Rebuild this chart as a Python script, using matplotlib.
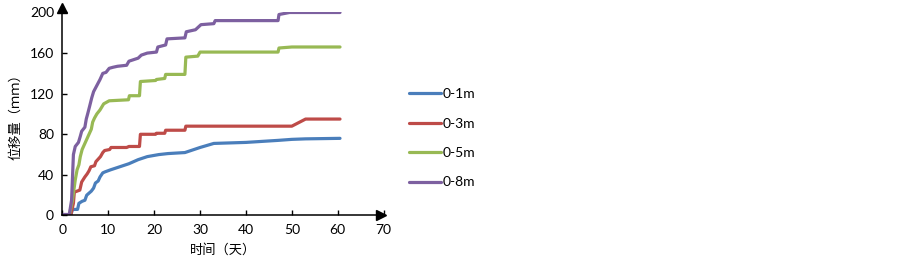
import numpy as np
import matplotlib.pyplot as plt

plt.rcParams['font.family'] = ['Lato', 'Noto Sans CJK SC', 'DejaVu Sans']

# 0-1m
x1 = [0, 1.8, 2.2, 3.3, 3.6, 4.3, 4.9, 5.3, 5.8, 6.3, 6.8, 7.2, 7.8, 8.2, 8.8, 9.3,
      10.5, 12.5, 14.5, 16.5, 18.5, 21, 23, 26.7, 30, 33, 40, 47, 50, 53, 60.5]
y1 = [0, 0, 6, 6, 12, 14, 15, 20, 22, 24, 27, 32, 34, 38, 42, 43,
      45, 48, 51, 55, 58, 60, 61, 62, 67, 71, 72, 74, 75, 75.5, 76]
# 0-3m
x3 = [0, 1.8, 2.4, 2.6, 3.8, 4.2, 4.9, 5.4, 5.8, 6.2, 7.0, 7.3, 7.9, 8.3, 8.8, 9.2,
      10.3, 10.6, 14, 14.5, 16.8, 17, 20.3, 20.5, 22.3, 22.5, 26.7, 26.9, 50, 53, 60.5]
y3 = [0, 0, 12, 23, 25, 33, 38, 41, 44, 48, 49, 53, 56, 58, 62, 64,
      65, 67, 67, 68, 68, 80, 80, 81, 81, 84, 84, 88, 88, 95, 95]
# 0-5m
x5 = [0, 1.5, 2.2, 2.8, 3.2, 3.6, 3.9, 4.3, 4.8, 5.3, 5.8, 6.3, 6.6, 7.0, 7.5, 8.2,
      8.6, 9.0, 10.2, 14.4, 14.6, 16.8, 17.0, 20.3, 20.5, 22.3, 22.5, 26.7, 26.9,
      29.5, 30, 47, 47.2, 50, 60.5]
y5 = [0, 0, 15, 35, 45, 50, 58, 65, 70, 75, 80, 85, 92, 96, 100, 104,
      107, 110, 113, 114, 118, 118, 132, 133, 134, 135, 139, 139, 156,
      157, 161, 161, 165, 166, 166]
# 0-8m
x8 = [0, 1.5, 2.0, 2.4, 2.8, 3.5, 3.9, 4.2, 4.9, 5.2, 5.5, 5.9, 6.4, 6.8, 7.5, 8.2,
      8.8, 9.5, 10.2, 11, 12, 14, 14.5, 16.5, 17.2, 18.5, 20.5, 20.8, 22.5, 22.8,
      26.7, 27, 29, 30.2, 33, 33.3, 47, 47.2, 49.5, 60.5]
y8 = [1, 1, 15, 60, 68, 72, 78, 83, 87, 95, 100, 107, 116, 122, 128, 134,
      140, 141, 145, 146, 147, 148, 152, 155, 158, 160, 161, 166, 168, 174,
      175, 181, 183, 188, 189, 192, 192, 198, 200, 200]

series = [(x1, y1, '0-1m', '#4A7EBB'),
          (x3, y3, '0-3m', '#BE4B48'),
          (x5, y5, '0-5m', '#98B954'),
          (x8, y8, '0-8m', '#7D60A0')]

fig = plt.figure(figsize=(9.03, 2.75), dpi=100)
ax = fig.add_axes([0.0691, 0.2164, 0.3557, 0.7382])

for xs, ys, name, c in series:
    ax.plot(xs, ys, color=c, lw=2.3, label=name, solid_capstyle='round')

ax.set(xlim=(0, 70), ylim=(0, 200))
ax.set_xticks(np.arange(0, 71, 10))
ax.set_yticks(np.arange(0, 201, 40))
ax.spines['top'].set_visible(False)
ax.spines['right'].set_visible(False)
for s in ('left', 'bottom'):
    ax.spines[s].set_linewidth(1.1)
ax.tick_params(direction='in', length=3.5, width=1, labelsize=10, pad=6)

ax.set_xlabel('时间（天）', fontsize=9.5, labelpad=5)
ax.set_ylabel('位移量（ｍｍ）', fontsize=9.5, labelpad=6)

arrow_fmt = dict(markersize=7, color='black', clip_on=False)
ax.plot(0.992, 0, marker='>', transform=ax.transAxes, **arrow_fmt)
ax.plot(0, 1.02, marker='^', transform=ax.transAxes, **arrow_fmt)

fig.legend(loc='center left', bbox_to_anchor=(0.439, 0.497), frameon=False,
           fontsize=10, handlelength=2.3, handletextpad=0.15, labelspacing=1.25)

fig.savefig('out.png', dpi=100)
